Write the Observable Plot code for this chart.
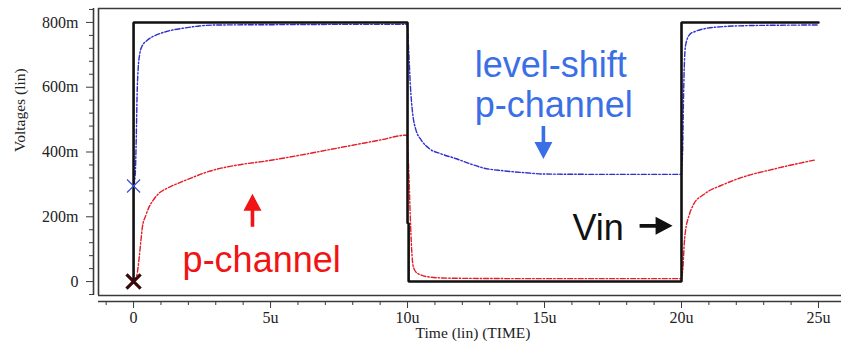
<!DOCTYPE html>
<html>
<head>
<meta charset="utf-8">
<script src="https://cdn.jsdelivr.net/npm/d3@7"></script>
<script src="https://cdn.jsdelivr.net/npm/@observablehq/plot@0.6"></script>
<style>
  html, body { margin: 0; padding: 0; background: #fff; }
  #chart svg { display: block; }
</style>
</head>
<body>
<div id="chart"></div>
<script>
// ---- Data (time in µs, voltage in V) ----
const vinTime = [0, 0, 10, 10, 10.04, 10.04, 20, 20, 25];
const vinVolt = [0, 0.8, 0.8, 0.18, 0.18, 0, 0, 0.8, 0.8];

const levelTime = [0, 0.06, 0.1, 0.13, 0.17, 0.22, 0.3, 0.5, 0.8, 1.2, 1.8, 2.4, 3, 5, 8, 9.98,
  10.05, 10.1, 10.15, 10.2, 10.3, 10.5, 10.8, 11.2, 11.75, 12.3, 12.8, 13.5, 14.3, 15, 17, 19.98,
  20.04, 20.07, 20.1, 20.15, 20.3, 20.5, 20.8, 21.7, 23, 25];
const levelVolt = [0.295, 0.33, 0.45, 0.58, 0.66, 0.7, 0.725, 0.745, 0.76, 0.772, 0.782, 0.789, 0.792, 0.793, 0.794, 0.794,
  0.7, 0.61, 0.55, 0.51, 0.47, 0.437, 0.41, 0.395, 0.38, 0.363, 0.35, 0.342, 0.336, 0.332, 0.331, 0.331,
  0.4, 0.55, 0.66, 0.73, 0.763, 0.772, 0.78, 0.788, 0.791, 0.792];

const pchTime = [0, 0.12, 0.2, 0.26, 0.32, 0.45, 0.56, 0.75, 0.92, 1.2, 1.53, 2.14, 2.75, 3.36, 3.97, 4.82, 6, 7, 8, 9, 9.97,
  10.05, 10.1, 10.15, 10.2, 10.3, 10.5, 10.8, 11.3, 12, 15, 19.98,
  20.05, 20.1, 20.17, 20.25, 20.45, 20.8, 21, 21.4, 22.15, 23.4, 24.85];
const pchVolt = [0, 0.02, 0.07, 0.12, 0.167, 0.205, 0.229, 0.255, 0.272, 0.287, 0.3, 0.321, 0.34, 0.353, 0.362, 0.372, 0.389, 0.405, 0.421, 0.437, 0.452,
  0.33, 0.2, 0.1, 0.05, 0.03, 0.02, 0.014, 0.011, 0.01, 0.009, 0.009,
  0.04, 0.117, 0.17, 0.197, 0.24, 0.268, 0.28, 0.295, 0.32, 0.348, 0.375];

// markers at t = 0
const markerTime = [0, 0];
const markerVolt = [0.295, 0];

// axes
const xDomain = [-1.28, 25.84];
const yDomain = [-0.043, 0.843];
const xTicks = [0, 5, 10, 15, 20, 25];
const xTickLabels = ["0", "5u", "10u", "15u", "20u", "25u"];
const xMinor = [-1, 1, 2, 3, 4, 6, 7, 8, 9, 11, 12, 13, 14, 16, 17, 18, 19, 21, 22, 23, 24];
const yTicks = [0, 0.2, 0.4, 0.6, 0.8];
const yTickLabels = ["0", "200m", "400m", "600m", "800m"];
const yMinor = [-0.04, 0.04, 0.08, 0.12, 0.16, 0.24, 0.28, 0.32, 0.36, 0.44, 0.48, 0.52, 0.56, 0.64, 0.68, 0.72, 0.76, 0.84];
const xAxisTitle = "Time (lin) (TIME)";
const yAxisTitle = "Voltages (lin)";

// annotations
const noteText = ["level-shift", "p-channel", "p-channel", "Vin"];
const noteTime = [12.45, 12.45, 1.79, 16.02];
const noteVolt = [0.631, 0.508, 0.031, 0.129];
const noteColor = ["#3b6fe6", "#3b6fe6", "#f01414", "#111111"];

const arrowTime = [14.96, 4.34, 18.47];
const arrowVolt = [0.48, 0.169, 0.172];
const arrowDir = [180, 0, 90];
const arrowColor = ["#3b6fe6", "#f01414", "#111111"];

// ---- build tables ----
const vin = vinTime.map((t, i) => ({t, v: vinVolt[i]}));
const level = levelTime.map((t, i) => ({t, v: levelVolt[i]}));
const pch = pchTime.map((t, i) => ({t, v: pchVolt[i]}));
const notes = noteText.map((s, i) => ({s, t: noteTime[i], v: noteVolt[i], c: noteColor[i]}));
const arrows = arrowTime.map((t, i) => ({t, v: arrowVolt[i], r: arrowDir[i], c: arrowColor[i]}));

const arrowShape = {
  draw(context, l) {
    const sw = 1.8, hw = 9, hl = 17;
    context.moveTo(-sw, 0);
    context.lineTo(-sw, -(l - hl));
    context.lineTo(-hw, -(l - hl));
    context.lineTo(0, -l);
    context.lineTo(hw, -(l - hl));
    context.lineTo(sw, -(l - hl));
    context.lineTo(sw, 0);
    context.closePath();
  }
};

const axisColor = "#3a3a3a";

const chart = Plot.plot({
  width: 841,
  height: 345,
  marginLeft: 98,
  marginRight: 0,
  marginTop: 8,
  marginBottom: 50,
  style: {fontFamily: "'Liberation Serif', 'DejaVu Serif', serif", fontSize: "16px", color: "#222", background: "#fff"},
  x: {domain: xDomain},
  y: {domain: yDomain},
  marks: [
    // frame (top, bottom, left)
    Plot.ruleY([yDomain[1], yDomain[0]], {stroke: axisColor, strokeWidth: 1.6}),
    Plot.ruleX([xDomain[0]], {stroke: axisColor, strokeWidth: 1.6}),
    // axis lines offset from frame
    Plot.ruleY([yDomain[0]], {dy: 6, stroke: axisColor, strokeWidth: 1.6}),
    Plot.ruleX([xDomain[0]], {dx: -5, stroke: axisColor, strokeWidth: 1.6}),
    // x axis
    Plot.axisX(xTicks, {anchor: "bottom", dy: 6, tickSize: 7, tickPadding: 3, stroke: axisColor, label: null,
      tickFormat: d => xTickLabels[xTicks.indexOf(d)]}),
    Plot.axisX(xMinor, {anchor: "bottom", dy: 6, tickSize: 4, stroke: axisColor, label: null, tickFormat: () => ""}),
    // y axis
    Plot.axisY(yTicks, {anchor: "left", dx: -5, tickSize: 7, tickPadding: 8, stroke: axisColor, label: null,
      tickFormat: d => yTickLabels[yTicks.indexOf(d)]}),
    Plot.axisY(yMinor, {anchor: "left", dx: -5, tickSize: 4, stroke: axisColor, label: null, tickFormat: () => ""}),
    // axis titles
    Plot.text([xAxisTitle], {text: d => d, frameAnchor: "bottom", dy: 42, dx: 3, fill: "#222", fontSize: 15.5}),
    Plot.text([yAxisTitle], {text: d => d, frameAnchor: "left", dx: -78, rotate: -90, fill: "#222", fontSize: 15.5}),
    // curves
    Plot.line(pch, {x: "t", y: "v", curve: "monotone-x", stroke: "#e41d27", strokeWidth: 1.4, strokeDasharray: "5,2,1.5,2"}),
    Plot.line(level, {x: "t", y: "v", curve: "monotone-x", stroke: "#2d2fcf", strokeWidth: 1.4, strokeDasharray: "5,2,1.5,2"}),
    Plot.line(vin, {x: "t", y: "v", stroke: "#111", strokeWidth: 2.6, strokeLinejoin: "miter"}),
    // markers
    Plot.dot([0], {x: () => markerTime[0], y: () => markerVolt[0], symbol: "times", r: 6, stroke: "#3c4fd6", strokeWidth: 1.2}),
    Plot.dot([0], {x: () => markerTime[1], y: () => markerVolt[1], symbol: "times", r: 6.5, stroke: "#3a0808", strokeWidth: 3.2}),
    // annotations
    Plot.text(notes, {x: "t", y: "v", text: "s", fill: "c", textAnchor: "start", lineAnchor: "bottom",
      fontSize: 36, fontFamily: "'Liberation Sans', Arial, sans-serif"}),
    Plot.vector(arrows, {x: "t", y: "v", rotate: "r", length: 33, anchor: "start", shape: arrowShape,
      fill: "c", stroke: "none"})
  ]
});

document.getElementById("chart").appendChild(chart);
</script>
</body>
</html>
